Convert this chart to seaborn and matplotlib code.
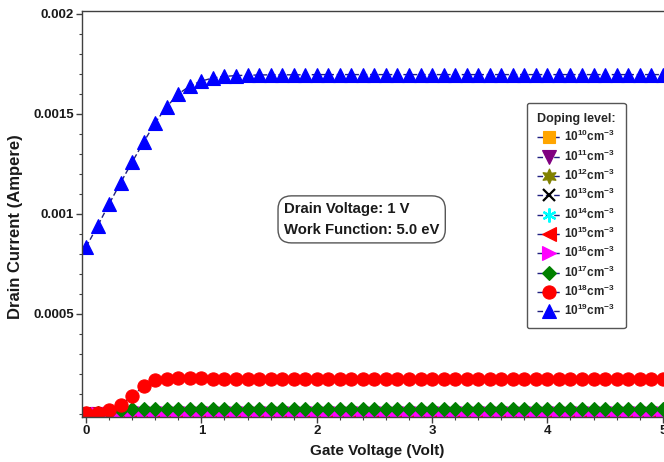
import numpy as np
import pandas as pd
import matplotlib
matplotlib.use("Agg")
import matplotlib.pyplot as plt
from matplotlib.ticker import FixedLocator, MultipleLocator, FuncFormatter
import seaborn as sns

# Gate voltage sweep (V)
gate_voltage = [0.0, 0.1, 0.2, 0.3, 0.4, 0.5, 0.6, 0.7, 0.8, 0.9,
                1.0, 1.1, 1.2, 1.3, 1.4, 1.5, 1.6, 1.7, 1.8, 1.9,
                2.0, 2.1, 2.2, 2.3, 2.4, 2.5, 2.6, 2.7, 2.8, 2.9,
                3.0, 3.1, 3.2, 3.3, 3.4, 3.5, 3.6, 3.7, 3.8, 3.9,
                4.0, 4.1, 4.2, 4.3, 4.4, 4.5, 4.6, 4.7, 4.8, 4.9, 5.0]

# Drain current (A) for each doping level
id_1e10 = [0.0, 0.0, 0.0, 0.0, 0.0, 0.0, 0.0, 0.0, 0.0, 0.0,
           0.0, 0.0, 0.0, 0.0, 0.0, 0.0, 0.0, 0.0, 0.0, 0.0,
           0.0, 0.0, 0.0, 0.0, 0.0, 0.0, 0.0, 0.0, 0.0, 0.0,
           0.0, 0.0, 0.0, 0.0, 0.0, 0.0, 0.0, 0.0, 0.0, 0.0,
           0.0, 0.0, 0.0, 0.0, 0.0, 0.0, 0.0, 0.0, 0.0, 0.0, 0.0]
id_1e11 = [0.0, 0.0, 0.0, 0.0, 0.0, 0.0, 0.0, 0.0, 0.0, 0.0,
           0.0, 0.0, 0.0, 0.0, 0.0, 0.0, 0.0, 0.0, 0.0, 0.0,
           0.0, 0.0, 0.0, 0.0, 0.0, 0.0, 0.0, 0.0, 0.0, 0.0,
           0.0, 0.0, 0.0, 0.0, 0.0, 0.0, 0.0, 0.0, 0.0, 0.0,
           0.0, 0.0, 0.0, 0.0, 0.0, 0.0, 0.0, 0.0, 0.0, 0.0, 0.0]
id_1e12 = [0.0, 0.0, 0.0, 0.0, 0.0, 0.0, 0.0, 0.0, 0.0, 0.0,
           0.0, 0.0, 0.0, 0.0, 0.0, 0.0, 0.0, 0.0, 0.0, 0.0,
           0.0, 0.0, 0.0, 0.0, 0.0, 0.0, 0.0, 0.0, 0.0, 0.0,
           0.0, 0.0, 0.0, 0.0, 0.0, 0.0, 0.0, 0.0, 0.0, 0.0,
           0.0, 0.0, 0.0, 0.0, 0.0, 0.0, 0.0, 0.0, 0.0, 0.0, 0.0]
id_1e13 = [0.0, 0.0, 0.0, 0.0, 0.0, 0.0, 0.0, 0.0, 0.0, 0.0,
           0.0, 0.0, 0.0, 0.0, 0.0, 0.0, 0.0, 0.0, 0.0, 0.0,
           0.0, 0.0, 0.0, 0.0, 0.0, 0.0, 0.0, 0.0, 0.0, 0.0,
           0.0, 0.0, 0.0, 0.0, 0.0, 0.0, 0.0, 0.0, 0.0, 0.0,
           0.0, 0.0, 0.0, 0.0, 0.0, 0.0, 0.0, 0.0, 0.0, 0.0, 0.0]
id_1e14 = [0.0, 0.0, 0.0, 0.0, 0.0, 0.0, 0.0, 0.0, 0.0, 0.0,
           0.0, 0.0, 0.0, 0.0, 0.0, 0.0, 0.0, 0.0, 0.0, 0.0,
           0.0, 0.0, 0.0, 0.0, 0.0, 0.0, 0.0, 0.0, 0.0, 0.0,
           0.0, 0.0, 0.0, 0.0, 0.0, 0.0, 0.0, 0.0, 0.0, 0.0,
           0.0, 0.0, 0.0, 0.0, 0.0, 0.0, 0.0, 0.0, 0.0, 0.0, 0.0]
id_1e15 = [0.0, 0.0, 0.0, 0.0, 0.000001, 0.000001, 0.000001, 0.000001, 0.000001, 0.000001,
           0.000001, 0.000001, 0.000001, 0.000001, 0.000001, 0.000001, 0.000001, 0.000001, 0.000001, 0.000001,
           0.000001, 0.000001, 0.000001, 0.000001, 0.000001, 0.000001, 0.000001, 0.000001, 0.000001, 0.000001,
           0.000001, 0.000001, 0.000001, 0.000001, 0.000001, 0.000001, 0.000001, 0.000001, 0.000001, 0.000001,
           0.000001, 0.000001, 0.000001, 0.000001, 0.000001, 0.000001, 0.000001, 0.000001, 0.000001, 0.000001, 0.000001]
id_1e16 = [0.000001, 0.000001, 0.000002, 0.000003, 0.000004, 0.000004, 0.000004, 0.000004, 0.000004, 0.000004,
           0.000004, 0.000004, 0.000004, 0.000004, 0.000004, 0.000004, 0.000004, 0.000004, 0.000004, 0.000004,
           0.000004, 0.000004, 0.000004, 0.000004, 0.000004, 0.000004, 0.000004, 0.000004, 0.000004, 0.000004,
           0.000004, 0.000004, 0.000004, 0.000004, 0.000004, 0.000004, 0.000004, 0.000004, 0.000004, 0.000004,
           0.000004, 0.000004, 0.000004, 0.000004, 0.000004, 0.000004, 0.000004, 0.000004, 0.000004, 0.000004, 0.000004]
id_1e17 = [0.000002, 0.000004, 0.000010, 0.000020, 0.000023, 0.000023, 0.000023, 0.000023, 0.000023, 0.000023,
           0.000023, 0.000023, 0.000023, 0.000023, 0.000023, 0.000023, 0.000023, 0.000023, 0.000023, 0.000023,
           0.000023, 0.000023, 0.000023, 0.000023, 0.000023, 0.000023, 0.000023, 0.000023, 0.000023, 0.000023,
           0.000023, 0.000023, 0.000023, 0.000023, 0.000023, 0.000023, 0.000023, 0.000023, 0.000023, 0.000023,
           0.000023, 0.000023, 0.000023, 0.000023, 0.000023, 0.000023, 0.000023, 0.000023, 0.000023, 0.000023, 0.000023]
id_1e18 = [0.000005, 0.000006, 0.000020, 0.000045, 0.000090, 0.000140, 0.000170, 0.000177, 0.000180, 0.000179,
           0.000178, 0.000177, 0.000177, 0.000177, 0.000177, 0.000177, 0.000176, 0.000176, 0.000176, 0.000176,
           0.000176, 0.000176, 0.000176, 0.000176, 0.000176, 0.000176, 0.000176, 0.000176, 0.000176, 0.000176,
           0.000176, 0.000176, 0.000175, 0.000175, 0.000175, 0.000175, 0.000175, 0.000175, 0.000175, 0.000175,
           0.000175, 0.000175, 0.000175, 0.000175, 0.000175, 0.000175, 0.000175, 0.000175, 0.000175, 0.000175, 0.000175]
id_1e19 = [0.000835, 0.000940, 0.001050, 0.001157, 0.001260, 0.001360, 0.001457, 0.001537, 0.001600, 0.001640,
           0.001665, 0.001680, 0.001688, 0.001692, 0.001694, 0.001695, 0.001696, 0.001696, 0.001696, 0.001696,
           0.001697, 0.001697, 0.001697, 0.001697, 0.001697, 0.001697, 0.001697, 0.001697, 0.001697, 0.001697,
           0.001697, 0.001697, 0.001697, 0.001697, 0.001697, 0.001697, 0.001697, 0.001697, 0.001697, 0.001697,
           0.001697, 0.001697, 0.001697, 0.001697, 0.001697, 0.001697, 0.001697, 0.001697, 0.001697, 0.001697, 0.001697]

doping_exponents = [10, 11, 12, 13, 14, 15, 16, 17, 18, 19]
currents = [id_1e10, id_1e11, id_1e12, id_1e13, id_1e14,
            id_1e15, id_1e16, id_1e17, id_1e18, id_1e19]

y_tick_values = [0.0005, 0.001, 0.0015, 0.002]
x_tick_values = [0, 1, 2, 3, 4, 5]

# Marker styling per doping level
marker_styles = [
    dict(marker="s", color="#FFA500", ms=9),
    dict(marker="v", color="#800080", ms=10),
    dict(marker=(6, 1, 0), color="#808000", ms=11),
    dict(marker="x", color="#000000", ms=9),
    dict(marker=(6, 2, 0), color="#00FFFF", ms=10),
    dict(marker="<", color="#FF0000", ms=10),
    dict(marker=">", color="#FF00FF", ms=10),
    dict(marker="D", color="#008000", ms=7.5),
    dict(marker="o", color="#FF0000", ms=9.5),
    dict(marker="^", color="#0000FF", ms=10),
]

sns.set_style("ticks")
plt.rcParams["font.family"] = ["Liberation Sans", "DejaVu Sans"]
plt.rcParams["font.weight"] = "bold"
plt.rcParams["mathtext.fontset"] = "custom"
plt.rcParams["mathtext.rm"] = "Liberation Sans:bold"
plt.rcParams["mathtext.bf"] = "Liberation Sans:bold"
plt.rcParams["mathtext.default"] = "bf"

fig = plt.figure(figsize=(6.64, 4.62), dpi=100)
ax = fig.add_axes([82 / 664, 45.3 / 462, 590 / 664, 406 / 462])

line_color = "#202080"
for exp, values, st in zip(doping_exponents, currents, marker_styles):
    df = pd.DataFrame({"Vg": gate_voltage, "Id": values})
    is_line_marker = st["marker"] == "x" or st["marker"] == (6, 2, 0)
    sns.lineplot(
        data=df, x="Vg", y="Id", ax=ax,
        color=line_color, linestyle=(0, (4, 2)), linewidth=1.0,
        marker=st["marker"], markersize=st["ms"],
        markerfacecolor=st["color"], markeredgecolor=st["color"],
        markeredgewidth=1.6 if is_line_marker else 0.8,
        label=rf"$10^{{{exp}}}$cm$^{{-3}}$",
    )

ax.set_xlim(-0.035, 5.08)
ax.set_ylim(-0.0000135, 0.0020165)

ax.xaxis.set_major_locator(FixedLocator(x_tick_values))
ax.xaxis.set_minor_locator(MultipleLocator(0.2))
ax.yaxis.set_major_locator(FixedLocator(y_tick_values))
ax.yaxis.set_minor_locator(MultipleLocator(0.0001))
ax.yaxis.set_major_formatter(FuncFormatter(lambda v, p: f"{v:g}"))
ax.xaxis.set_major_formatter(FuncFormatter(lambda v, p: f"{v:g}"))

spine_color = "#404040"
for side in ("left", "top", "bottom", "right"):
    ax.spines[side].set_color(spine_color)
    ax.spines[side].set_linewidth(1.0)
ax.tick_params(which="major", direction="out", length=4, width=1, color=spine_color,
               labelsize=9.5, labelcolor="#1a1a1a", pad=2)
ax.tick_params(which="minor", direction="out", length=2.5, width=0.8, color=spine_color)
for lbl in ax.get_xticklabels() + ax.get_yticklabels():
    lbl.set_fontweight("bold")

ax.set_xlabel("Gate Voltage (Volt)", fontsize=11, fontweight="bold", color="#1a1a1a", labelpad=5)
ax.set_ylabel("Drain Current (Ampere)", fontsize=12, fontweight="bold", color="#1a1a1a")
ax.yaxis.set_label_coords(-0.1, 0.468)

ax.text(0.474, 0.486, "Drain Voltage: 1 V\nWork Function: 5.0 eV",
        transform=ax.transAxes, ha="center", va="center", multialignment="left",
        fontsize=10.7, fontweight="bold", color="#1a1a1a", linespacing=1.65,
        bbox=dict(boxstyle="round,pad=0.4,rounding_size=0.9",
                  facecolor="white", edgecolor="#555555", linewidth=1.0))

leg = ax.legend(loc="upper left", bbox_to_anchor=(0.754, 0.7727), borderaxespad=0,
                title="Doping level:", fontsize=8.5, title_fontsize=9,
                handlelength=2.0, handletextpad=0.3, labelspacing=0.35,
                borderpad=0.85, fancybox=True, framealpha=1,
                edgecolor="#555555")
leg.get_title().set_fontweight("bold")
leg.get_frame().set_linewidth(1.0)

fig.savefig("out.png", dpi=100)
